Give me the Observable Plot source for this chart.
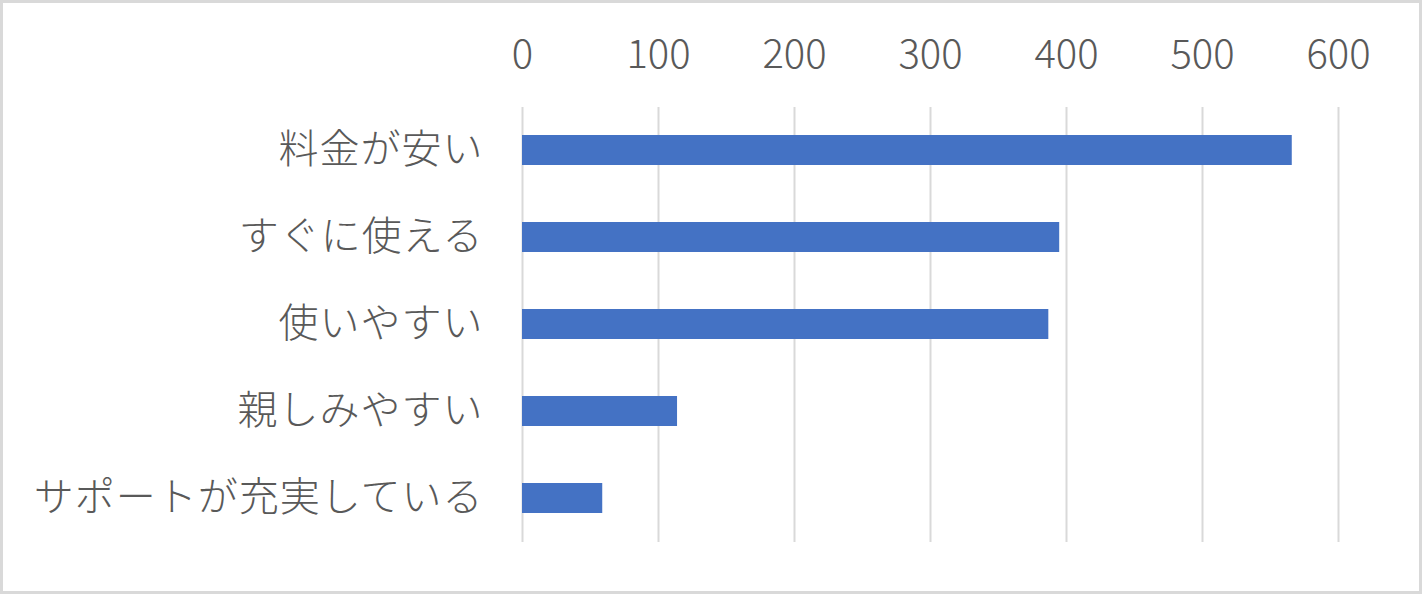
<!DOCTYPE html>
<html>
<head>
<meta charset="utf-8">
<script src="https://cdn.jsdelivr.net/npm/d3@7"></script>
<script src="https://cdn.jsdelivr.net/npm/@observablehq/plot@0.6"></script>
<style>
  html, body { margin: 0; padding: 0; background: #fff; }
  #wrap { position: relative; width: 1422px; height: 594px; overflow: hidden; }
  #border { position: absolute; left: 0; top: 0; width: 1422px; height: 594px; box-sizing: border-box; border: 3px solid #d9d9d9; pointer-events: none; }
  svg { display: block; }
  .yax text { letter-spacing: 1px; }
</style>
</head>
<body>
<div id="wrap"><div id="border"></div></div>
<script>
const categories = ["料金が安い", "すぐに使える", "使いやすい", "親しみやすい", "サポートが充実している"];
const values = [566, 395, 387, 114, 59];
const xTicks = [0, 100, 200, 300, 400, 500, 600];

const data = categories.map((c, i) => ({category: c, value: values[i]}));

const chart = Plot.plot({
  width: 1422,
  height: 594,
  marginLeft: 522,
  marginRight: 84,
  marginTop: 107,
  marginBottom: 52,
  style: {
    fontFamily: "'Noto Sans CJK JP', 'Noto Sans', sans-serif",
    fontWeight: 300,
    color: "#595959",
    background: "transparent"
  },
  x: { domain: [0, 600], axis: null },
  y: { domain: categories, paddingInner: 0.655, paddingOuter: 0.3275, axis: null },
  marks: [
    Plot.gridX(xTicks, { stroke: "#d9d9d9", strokeWidth: 2, strokeOpacity: 1 }),
    Plot.barX(data, { x: "value", y: "category", fill: "#4472C4" }),
    Plot.axisX(xTicks, {
      anchor: "top",
      tickSize: 0,
      tickPadding: 40,
      fontSize: 40,
      fill: "#595959",
      label: null,
      tickFormat: d => String(d)
    }),
    Plot.axisY({
      anchor: "left",
      tickSize: 0,
      tickPadding: 39,
      fontSize: 40,
      fill: "#595959",
      label: null,
      className: "yax"
    })
  ]
});
document.getElementById("wrap").insertBefore(chart, document.getElementById("border"));
</script>
</body>
</html>
